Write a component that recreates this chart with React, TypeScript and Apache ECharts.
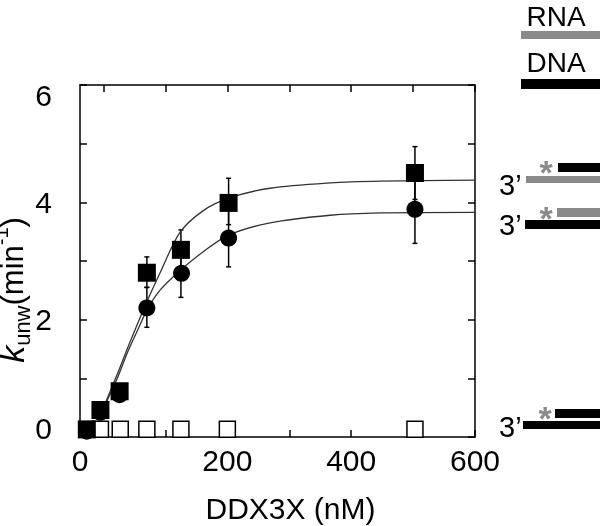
import React, { useEffect, useRef } from "react";
import * as echarts from "echarts";

// ---- data ----
const xMin = -38;
const xMax = 600;
const xTickValues = [0, 100, 200, 300, 400, 500, 600];
const xLabelValues = [xMin, 200, 400, 600];
const xLabelTexts = ["0", "200", "400", "600"];
const yTickValues = [0, 1, 2, 3, 4, 5, 6];
const yLabelValues = [0, 2, 4, 6];

// RNA/DNA duplex (filled squares)
const sqX = [-27, -5, 26, 70, 125, 202, 503];
const sqY = [0.13, 0.46, 0.78, 2.8, 3.19, 3.99, 4.5];
// DNA/RNA duplex (filled circles)
const ciX = [-27, -5, 26, 70, 126, 202, 503];
const ciY = [0.1, 0.42, 0.72, 2.2, 2.79, 3.39, 3.88];
// DNA/DNA duplex (open squares)
const opX = [-5, 27, 70, 125, 200, 503];
const opY = [0.13, 0.13, 0.13, 0.13, 0.13, 0.13];

// error bars
const errX = [70, 125, 202, 503];
const sqLo = [2.55, 2.87, 3.62, 4.05];
const sqHi = [3.07, 3.53, 4.41, 4.95];
const ciLo = [1.87, 2.38, 2.9, 3.3];
const ciHi = [2.55, 3.2, 3.9, 4.45];

// fitted curves
const fitX = [-3, 5, 23, 39, 55, 71, 91, 123, 160, 202, 269, 366, 447, 600];
const sqFit = [0.37, 0.63, 1.09, 1.52, 1.93, 2.33, 2.79, 3.48, 3.85, 4.07, 4.24, 4.33, 4.36, 4.38];
const ciFit = [0.37, 0.6, 1.02, 1.45, 1.82, 2.18, 2.5, 2.83, 3.15, 3.44, 3.65, 3.78, 3.82, 3.83];

const FONT = "'Liberation Sans', Arial, sans-serif";
const GRAY = "#8a8a8a";

function errorBar(color: string) {
  return (params: any, api: any) => {
    const x = api.value(0);
    const lo = api.coord([x, api.value(1)]);
    const hi = api.coord([x, api.value(2)]);
    const cap = 2.5;
    const st = { stroke: color, lineWidth: 1.5 };
    return {
      type: "group",
      children: [
        { type: "line", shape: { x1: lo[0], y1: lo[1], x2: hi[0], y2: hi[1] }, style: st },
        { type: "line", shape: { x1: lo[0] - cap, y1: lo[1], x2: lo[0] + cap, y2: lo[1] }, style: st },
        { type: "line", shape: { x1: hi[0] - cap, y1: hi[1], x2: hi[0] + cap, y2: hi[1] }, style: st },
      ],
    };
  };
}

function txt(text: string, x: number, y: number, size: number, color = "#000", align = "left", extra: any = {}) {
  return {
    type: "text",
    x,
    y,
    style: {
      text,
      fontSize: size,
      fontFamily: FONT,
      fill: color,
      textAlign: align,
      textVerticalAlign: "middle",
      ...extra,
    },
  };
}

function bar(x: number, y: number, w: number, h: number, color: string) {
  return { type: "rect", shape: { x, y, width: w, height: h }, style: { fill: color } };
}

export default function App() {
  const ref = useRef<HTMLDivElement>(null);
  useEffect(() => {
    if (!ref.current) return;
    const chart = echarts.init(ref.current, null, { renderer: "svg" });
    const axisLine = { show: true, onZero: false, lineStyle: { color: "#000", width: 1.5 } };
    const tickStyle = { color: "#000", width: 1.5 };
    const option: any = {
      animation: false,
      grid: { left: 80, right: 125, top: 85, bottom: 89, containLabel: false, outerBoundsMode: "none" },
      xAxis: [
        {
          type: "value",
          min: xMin,
          max: xMax,
          position: "bottom",
          axisLine,
          axisTick: { show: true, inside: true, length: 7, lineStyle: tickStyle, customValues: xTickValues },
          axisLabel: {
            customValues: xLabelValues,
            formatter: (v: number) => xLabelTexts[xLabelValues.indexOf(v)] ?? String(v),
            fontSize: 30,
            color: "#000",
            fontFamily: FONT,
            margin: 8,
          },
          splitLine: { show: false },
          name: "DDX3X (nM)",
          nameLocation: "middle",
          nameGap: 56,
          nameMoveOverlap: false,
          nameTextStyle: { fontSize: 30, color: "#000", fontFamily: FONT, padding: [0, 0, 0, 26] },
        },
        {
          type: "value",
          min: xMin,
          max: xMax,
          position: "top",
          axisLine,
          axisTick: { show: true, inside: true, length: 7, lineStyle: tickStyle, customValues: xTickValues },
          axisLabel: { show: false },
          splitLine: { show: false },
        },
      ],
      yAxis: [
        {
          type: "value",
          min: 0,
          max: 6,
          interval: 1,
          position: "left",
          axisLine,
          axisTick: { show: true, inside: true, length: 7, lineStyle: tickStyle, customValues: yTickValues },
          axisLabel: {
            customValues: yLabelValues,
            formatter: (v: number) => (v === 0 ? "{lo|0}" : v === 6 ? "{hi|6}" : String(v)),
            rich: {
              lo: { fontSize: 30, fontFamily: FONT, color: "#000", padding: [0, 0, 18, 0] },
              hi: { fontSize: 30, fontFamily: FONT, color: "#000", padding: [20, 0, 0, 0] },
            },
            fontSize: 30,
            color: "#000",
            fontFamily: FONT,
            margin: 28,
          },
          splitLine: { show: false },
          name: "{k|k}{sub|unw}{n|(min}{sup|-1}{n|)}",
          nameLocation: "middle",
          nameGap: 47,
          nameMoveOverlap: false,
          nameTextStyle: {
            fontFamily: FONT,
            color: "#000",
            padding: [0, 58, 0, 0],
            rich: {
              k: { fontSize: 34, fontStyle: "italic", fontFamily: FONT, color: "#000", lineHeight: 42 },
              n: { fontSize: 31, fontFamily: FONT, color: "#000", lineHeight: 42 },
              sub: { fontSize: 22, fontFamily: FONT, color: "#000", lineHeight: 22, verticalAlign: "bottom" },
              sup: { fontSize: 20, fontFamily: FONT, color: "#000", lineHeight: 20, verticalAlign: "top" },
            },
          },
        },
        {
          type: "value",
          min: 0,
          max: 6,
          interval: 1,
          position: "right",
          axisLine,
          axisTick: { show: true, inside: true, length: 7, lineStyle: tickStyle, customValues: yTickValues },
          axisLabel: { show: false },
          splitLine: { show: false },
        },
      ],
      series: [
        {
          type: "line",
          data: fitX.map((x, i) => [x, ciFit[i]]),
          smooth: 0.3,
          showSymbol: false,
          lineStyle: { color: "#333", width: 1.3 },
          z: 2,
        },
        {
          type: "line",
          data: fitX.map((x, i) => [x, sqFit[i]]),
          smooth: 0.3,
          showSymbol: false,
          lineStyle: { color: "#333", width: 1.3 },
          z: 2,
        },
        {
          type: "custom",
          renderItem: errorBar("#000"),
          data: errX.map((x, i) => [x, ciLo[i], ciHi[i]]),
          encode: { x: 0, y: [1, 2] },
          z: 1,
        },
        {
          type: "custom",
          renderItem: errorBar("#000"),
          data: errX.map((x, i) => [x, sqLo[i], sqHi[i]]),
          encode: { x: 0, y: [1, 2] },
          z: 1,
        },
        {
          type: "scatter",
          data: opX.map((x, i) => [x, opY[i]]),
          symbol: "rect",
          symbolSize: 16,
          itemStyle: { color: "#fff", borderColor: "#000", borderWidth: 1.5, opacity: 1 },
          z: 3,
        },
        {
          type: "scatter",
          data: ciX.map((x, i) => [x, ciY[i]]),
          symbol: "circle",
          symbolSize: 17,
          itemStyle: { color: "#000", opacity: 1 },
          z: 4,
        },
        {
          type: "scatter",
          data: sqX.map((x, i) => [x, sqY[i]]),
          symbol: "rect",
          symbolSize: 18,
          itemStyle: { color: "#000", opacity: 1 },
          z: 5,
        },
      ],
      graphic: [
        txt("RNA", 556, 16, 28, "#000", "center"),
        bar(521, 31, 79, 8, GRAY),
        txt("DNA", 556, 62, 28, "#000", "center"),
        bar(521, 79, 79, 10, "#000"),
        // icon 1
        bar(558, 163, 42, 9, "#000"),
        bar(526, 176, 74, 7, GRAY),
        txt("*", 546, 172, 34, GRAY, "center", { fontWeight: "bold" }),
        txt("3\u2019", 499, 185, 29),
        // icon 2
        bar(557, 208, 43, 9, GRAY),
        bar(525, 220, 75, 9, "#000"),
        txt("*", 546, 218, 34, GRAY, "center", { fontWeight: "bold" }),
        txt("3\u2019", 499, 225, 29),
        // icon 3
        bar(555, 409, 45, 9, "#000"),
        bar(523, 421, 77, 8, "#000"),
        txt("*", 545, 418, 34, GRAY, "center", { fontWeight: "bold" }),
        txt("3\u2019", 499, 427, 29),
      ],
    };
    chart.setOption(option);
    return () => chart.dispose();
  }, []);
  return <div ref={ref} style={{ position: "fixed", left: 0, top: 0, width: 600, height: 526 }} />;
}
